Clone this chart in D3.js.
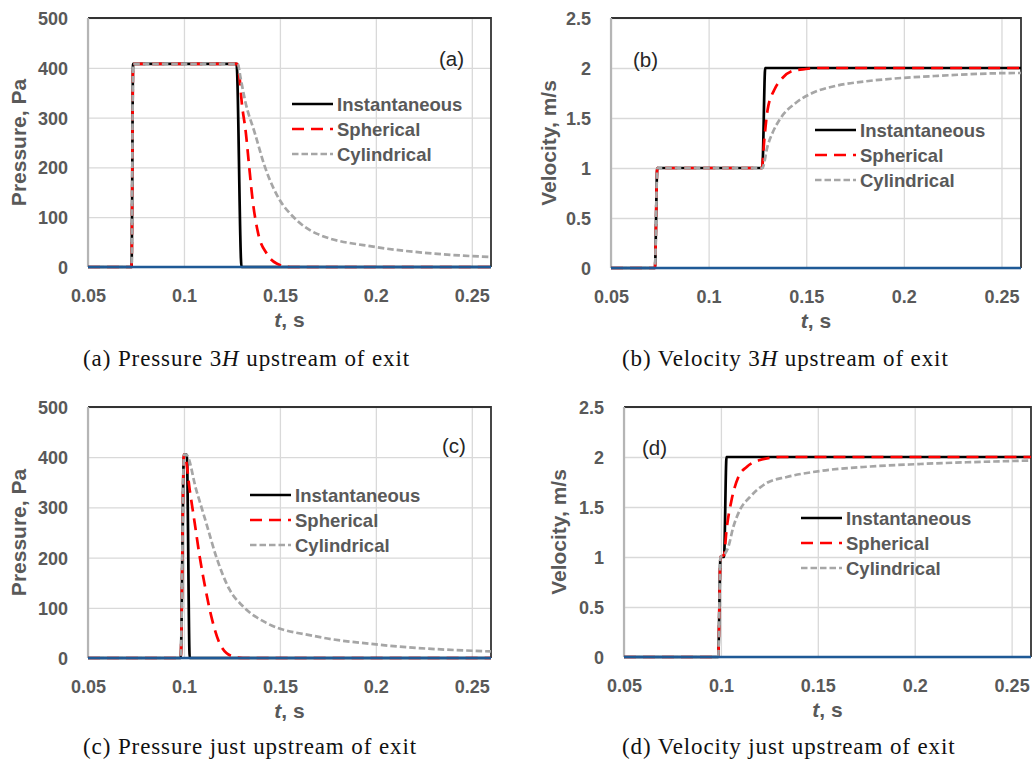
<!DOCTYPE html>
<html>
<head>
<meta charset="utf-8">
<script src="https://cdn.jsdelivr.net/npm/d3@7"></script>
<style>
  body { margin: 0; background: #fff; }
  svg { display: block; }
</style>
</head>
<body>
<svg id="fig" width="1034" height="765"></svg>
<script>
// tick values and labels
const xTicks = [0.05, 0.1, 0.15, 0.2, 0.25];
const xTickLabels = ["0.05", "0.1", "0.15", "0.2", "0.25"];
const pTicks = [0, 100, 200, 300, 400, 500];
const pTickLabels = ["0", "100", "200", "300", "400", "500"];
const vTicks = [0, 0.5, 1, 1.5, 2, 2.5];
const vTickLabels = ["0", "0.5", "1", "1.5", "2", "2.5"];
const seriesNames = ["Instantaneous", "Spherical", "Cylindrical"];

// (a) pressure 3H upstream, [t, Pa]
const pA_inst = [[0.05,0],[0.0727,0],[0.0735,408],[0.1274,408],[0.1300,0],[0.26,0]];
const pA_sph = [[0.05,0],[0.0727,0],[0.0735,408],[0.1278,408],[0.1290,380],[0.1300,335],[0.1323,268],[0.1340,201],[0.1358,134],[0.1387,67],[0.1431,27],[0.1483,7],[0.1552,0],[0.26,0]];
const pA_cyl = [[0.05,0],[0.0727,0],[0.0735,408],[0.1280,408],[0.1295,380],[0.1318,335],[0.1370,268],[0.1422,201],[0.1500,134],[0.1569,101],[0.1691,67],[0.2003,40],[0.2299,27],[0.26,20]];

// (b) velocity 3H upstream, [t, m/s]
const vB_inst = [[0.05,0],[0.0725,0],[0.0737,1],[0.1275,1],[0.1290,2],[0.26,2]];
const vB_sph = [[0.05,0],[0.0725,0],[0.0737,1],[0.1273,1],[0.1285,1.28],[0.1302,1.58],[0.1336,1.78],[0.1378,1.90],[0.1429,1.97],[0.1497,1.99],[0.1564,2],[0.26,2]];
const vB_cyl = [[0.05,0],[0.0725,0],[0.0737,1],[0.1275,1],[0.1302,1.22],[0.1327,1.35],[0.1369,1.5],[0.1446,1.65],[0.1531,1.75],[0.1649,1.82],[0.1819,1.87],[0.1988,1.9],[0.2158,1.92],[0.2581,1.95],[0.26,1.95]];

// (c) pressure just upstream
const pC_inst = [[0.05,0],[0.0983,0],[0.1000,405],[0.1015,405],[0.1030,0],[0.26,0]];
const pC_sph = [[0.05,0],[0.0983,0],[0.1000,405],[0.1005,404],[0.1030,335],[0.1056,269],[0.1082,202],[0.1113,136],[0.1151,70],[0.1194,23],[0.1255,3],[0.1307,0],[0.26,0]];
const pC_cyl = [[0.05,0],[0.0983,0],[0.1000,405],[0.1012,405],[0.1064,335],[0.1116,269],[0.1168,202],[0.1238,136],[0.1307,103],[0.1429,70],[0.1689,43],[0.2002,27],[0.26,13]];

// (d) velocity just upstream
const vD_inst = [[0.05,0],[0.0986,0],[0.0998,1],[0.1016,1],[0.1029,2],[0.26,2]];
const vD_sph = [[0.05,0],[0.0986,0],[0.0998,1],[0.1016,1.02],[0.1029,1.27],[0.1055,1.57],[0.1090,1.80],[0.1133,1.90],[0.1202,1.97],[0.1305,2.0],[0.26,2.0]];
const vD_cyl = [[0.05,0],[0.0986,0],[0.0998,1],[0.1016,1.02],[0.1038,1.10],[0.1064,1.30],[0.1098,1.47],[0.1150,1.60],[0.1236,1.74],[0.1340,1.80],[0.1512,1.86],[0.1771,1.905],[0.2029,1.93],[0.26,1.965]];

const captions = [
  "(a) Pressure 3<i>H</i> upstream of exit",
  "(b) Velocity 3<i>H</i> upstream of exit",
  "(c) Pressure just upstream of exit",
  "(d) Velocity just upstream of exit"
];

// styles for the three series
const styles = [
  { color: "#000000", dash: null },
  { color: "#ff0000", dash: "12,7" },
  { color: "#a6a6a6", dash: "6.5,3" }
];

const svg = d3.select("#fig");
const txtGrey = "#595959";
const sans = "'Liberation Sans', Arial, sans-serif";

const panels = [
  { tag: "(a)", series: [pA_inst, pA_sph, pA_cyl], yMax: 500, yTicks: pTicks, yLabels: pTickLabels, yTitle: "Pressure, Pa",
    left: 88, right: 491, top: 18, bottom: 267, ytOff: 62, tagX: 439, tagY: 66, legX: 292, legY: 104,
    capX: 83, capY: 366 },
  { tag: "(b)", series: [vB_inst, vB_sph, vB_cyl], yMax: 2.5, yTicks: vTicks, yLabels: vTickLabels, yTitle: "Velocity, m/s",
    left: 611, right: 1021, top: 18, bottom: 268, ytOff: 55, tagX: 633, tagY: 67, legX: 815, legY: 130,
    capX: 622, capY: 366 },
  { tag: "(c)", series: [pC_inst, pC_sph, pC_cyl], yMax: 500, yTicks: pTicks, yLabels: pTickLabels, yTitle: "Pressure, Pa",
    left: 88, right: 491, top: 407, bottom: 658, ytOff: 62, tagX: 442, tagY: 453, legX: 250, legY: 495,
    capX: 83, capY: 754 },
  { tag: "(d)", series: [vD_inst, vD_sph, vD_cyl], yMax: 2.5, yTicks: vTicks, yLabels: vTickLabels, yTitle: "Velocity, m/s",
    left: 624, right: 1031, top: 407, bottom: 657, ytOff: 58, tagX: 642, tagY: 455, legX: 801, legY: 518,
    capX: 622, capY: 754 }
];

panels.forEach((p, i) => {
  const x = d3.scaleLinear().domain([0.05, 0.26]).range([p.left, p.right]);
  const y = d3.scaleLinear().domain([0, p.yMax]).range([p.bottom, p.top]);
  const g = svg.append("g");

  // grid
  g.append("g")
    .attr("transform", `translate(0,${p.bottom})`)
    .call(d3.axisBottom(x).tickValues(xTicks).tickSize(-(p.bottom - p.top)).tickFormat(""))
    .call(a => a.select(".domain").remove())
    .call(a => a.selectAll("line").attr("stroke", "#d9d9d9").attr("stroke-width", 1.3));
  g.append("g")
    .attr("transform", `translate(${p.left},0)`)
    .call(d3.axisLeft(y).tickValues(p.yTicks).tickSize(-(p.right - p.left)).tickFormat(""))
    .call(a => a.select(".domain").remove())
    .call(a => a.selectAll("line").attr("stroke", "#d9d9d9").attr("stroke-width", 1.3));

  // frame: top & right dark, left grey
  g.append("path")
    .attr("d", `M${p.left},${p.top}H${p.right}V${p.bottom}`)
    .attr("fill", "none").attr("stroke", "#333").attr("stroke-width", 1.8);
  g.append("line")
    .attr("x1", p.left).attr("x2", p.left).attr("y1", p.top).attr("y2", p.bottom)
    .attr("stroke", "#b5b5b5").attr("stroke-width", 2.2);

  // curves, grey drawn last (on top)
  const line = d3.line().x(d => x(d[0])).y(d => y(d[1])).curve(d3.curveMonotoneX);
  p.series.forEach((s, k) => {
    g.append("path")
      .datum(s)
      .attr("d", line)
      .attr("fill", "none")
      .attr("stroke", styles[k].color)
      .attr("stroke-width", 2.7)
      .attr("stroke-dasharray", styles[k].dash)
      .attr("stroke-linejoin", "round");
  });

  // zero axis line (blue)
  g.append("line")
    .attr("x1", p.left).attr("x2", p.right).attr("y1", y(0)).attr("y2", y(0))
    .attr("stroke", "#1f5a96").attr("stroke-width", 2.7);

  // tick labels
  const xAx = g.append("g")
    .attr("transform", `translate(0,${p.bottom})`)
    .call(d3.axisBottom(x).tickValues(xTicks).tickSize(0).tickPadding(0)
      .tickFormat((d, j) => xTickLabels[j]));
  xAx.select(".domain").remove();
  xAx.selectAll("text").attr("dy", null).attr("y", 35)
    .attr("font-family", sans).attr("font-weight", "bold").attr("font-size", 18).attr("fill", txtGrey);

  const yAx = g.append("g")
    .attr("transform", `translate(${p.left},0)`)
    .call(d3.axisLeft(y).tickValues(p.yTicks).tickSize(0).tickPadding(20)
      .tickFormat((d, j) => p.yLabels[j]));
  yAx.select(".domain").remove();
  yAx.selectAll("text").attr("dy", "0.36em")
    .attr("font-family", sans).attr("font-weight", "bold").attr("font-size", 18).attr("fill", txtGrey);

  // axis titles
  const xt = g.append("text")
    .attr("x", (p.left + p.right) / 2).attr("y", p.bottom + 60)
    .attr("text-anchor", "middle")
    .attr("font-family", sans).attr("font-weight", "bold").attr("font-size", 21).attr("fill", txtGrey);
  xt.append("tspan").attr("font-style", "italic").text("t");
  xt.append("tspan").text(", s");

  g.append("text")
    .attr("transform", `translate(${p.left - p.ytOff},${(p.top + p.bottom) / 2}) rotate(-90)`)
    .attr("text-anchor", "middle")
    .attr("font-family", sans).attr("font-weight", "bold").attr("font-size", 21).attr("fill", txtGrey)
    .text(p.yTitle);

  // panel tag
  g.append("text")
    .attr("x", p.tagX).attr("y", p.tagY)
    .attr("font-family", sans).attr("font-size", 20.5).attr("fill", "#262626")
    .text(p.tag);

  // legend
  seriesNames.forEach((name, k) => {
    const ly = p.legY + k * 25;
    g.append("line")
      .attr("x1", p.legX).attr("x2", p.legX + 41).attr("y1", ly).attr("y2", ly)
      .attr("stroke", styles[k].color).attr("stroke-width", 2.7)
      .attr("stroke-dasharray", styles[k].dash);
    g.append("text")
      .attr("x", p.legX + 45).attr("y", ly + 6.5)
      .attr("font-family", sans).attr("font-weight", "bold").attr("font-size", 18.5).attr("fill", txtGrey)
      .text(name);
  });

  // caption
  const cap = svg.append("text")
    .attr("x", p.capX).attr("y", p.capY)
    .attr("font-family", "'Liberation Serif', 'Times New Roman', serif").attr("font-size", 23)
    .attr("letter-spacing", 0.9).attr("fill", "#111");
  const parts = captions[i].split(/(<i>.*?<\/i>)/);
  parts.forEach(s => {
    if (s.startsWith("<i>")) cap.append("tspan").attr("font-style", "italic").text(s.replace(/<\/?i>/g, ""));
    else if (s) cap.append("tspan").text(s);
  });
});
</script>
</body>
</html>
